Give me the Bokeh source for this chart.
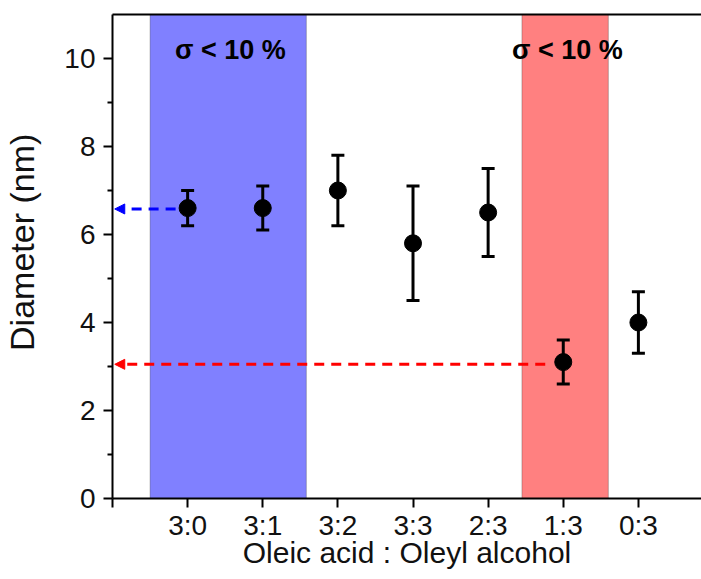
from bokeh.plotting import figure
from bokeh.models import (Range1d, FixedTicker, LinearAxis, BoxAnnotation, Whisker,
                          TeeHead, Arrow, NormalHead, ColumnDataSource, Label)
from bokeh.embed import file_html
from bokeh.resources import INLINE

# ---- data ----
categories = ["3:0", "3:1", "3:2", "3:3", "2:3", "1:3", "0:3"]
positions = [1, 2, 3, 4, 5, 6, 7]
diameter = [6.6, 6.6, 7.0, 5.8, 6.5, 3.1, 4.0]
err_upper = [7.0, 7.1, 7.8, 7.1, 7.5, 3.6, 4.7]
err_lower = [6.2, 6.1, 6.2, 4.5, 5.5, 2.6, 3.3]
blue_band = [0.5, 2.58]
red_band = [5.45, 6.6]
band_label = "σ  < 10 %"
blue_arrow = dict(x0=0.84, x1=0.03, y=6.58)
red_arrow = dict(x0=5.76, x1=0.03, y=3.05)

FONT = "Liberation Sans"

p = figure(width=701, height=571, output_backend="svg", toolbar_location=None,
           x_range=Range1d(0, 7.84), y_range=Range1d(0, 11),
           min_border_left=106, min_border_right=0, min_border_top=14, min_border_bottom=70)
p.outline_line_color = None
p.xgrid.visible = False
p.ygrid.visible = False
p.background_fill_color = "white"

# bands
p.add_layout(BoxAnnotation(left=blue_band[0], right=blue_band[1], fill_color="#8080FF",
                           fill_alpha=1.0, line_color="#333333", line_width=1, level="underlay"))
p.add_layout(BoxAnnotation(left=red_band[0], right=red_band[1], fill_color="#FF8080",
                           fill_alpha=1.0, line_color="#333333", line_width=1, level="underlay"))

src = ColumnDataSource(dict(x=positions, y=diameter, upper=err_upper, lower=err_lower))
p.add_layout(Whisker(source=src, base="x", upper="upper", lower="lower",
                     line_color="black", line_width=3,
                     upper_head=TeeHead(size=13, line_width=3, line_color="black"),
                     lower_head=TeeHead(size=13, line_width=3, line_color="black")))
p.scatter(x="x", y="y", source=src, size=17, marker="circle", color="black")

# arrows
for a, col in ((blue_arrow, "#0000FF"), (red_arrow, "#FF0000")):
    p.add_layout(Arrow(x_start=a["x0"], y_start=a["y"], x_end=a["x1"], y_end=a["y"],
                       line_color=col, line_width=3, line_dash="10 7",
                       end=NormalHead(size=10, fill_color=col, line_color=col, line_width=1)))

# band labels
for band in (blue_band, red_band):
    p.add_layout(Label(x=(band[0] + band[1]) / 2, y=10.2, x_offset=6, text=band_label,
                       text_align="center", text_baseline="middle",
                       text_font=FONT, text_font_style="bold", text_font_size="27px",
                       text_color="black"))

# axes
xa = p.xaxis[0]
xa.ticker = FixedTicker(ticks=[0] + positions)
xa.major_label_overrides = {0: ""} | {pos: c for pos, c in zip(positions, categories)}
xa.axis_label = "Oleic acid : Oleyl alcohol"
ya = p.yaxis[0]
ya.ticker = FixedTicker(ticks=[0, 2, 4, 6, 8, 10], minor_ticks=[1, 3, 5, 7, 9])
ya.axis_label = "\u00a0\u00a0\u00a0Diameter (nm)"

for ax in (xa, ya):
    ax.axis_line_width = 2
    ax.axis_line_color = "black"
    ax.major_tick_line_width = 2
    ax.major_tick_line_color = "black"
    ax.minor_tick_line_width = 2
    ax.minor_tick_line_color = "black"
    ax.major_tick_in = 0
    ax.major_tick_out = 9
    ax.minor_tick_in = 0
    ax.minor_tick_out = 5
    ax.major_label_text_font = FONT
    ax.major_label_text_font_size = "28px"
    ax.major_label_text_color = "#111111"
    ax.axis_label_text_font = FONT
    ax.axis_label_text_font_style = "normal"
    ax.axis_label_text_color = "#111111"
xa.minor_tick_line_color = None
xa.major_label_standoff = 2
xa.axis_label_standoff = -8
xa.axis_label_text_font_size = "30px"
ya.major_label_standoff = 8
ya.axis_label_standoff = 20
ya.axis_label_text_font_size = "34px"

top = LinearAxis(ticker=FixedTicker(ticks=[]), axis_line_width=2, axis_line_color="black",
                 major_tick_out=0, major_tick_in=0, minor_tick_out=0, minor_tick_in=0,
                 major_label_text_font_size="0px", major_label_standoff=0)
p.add_layout(top, "above")

open("out.html", "w").write(file_html(p, INLINE))
